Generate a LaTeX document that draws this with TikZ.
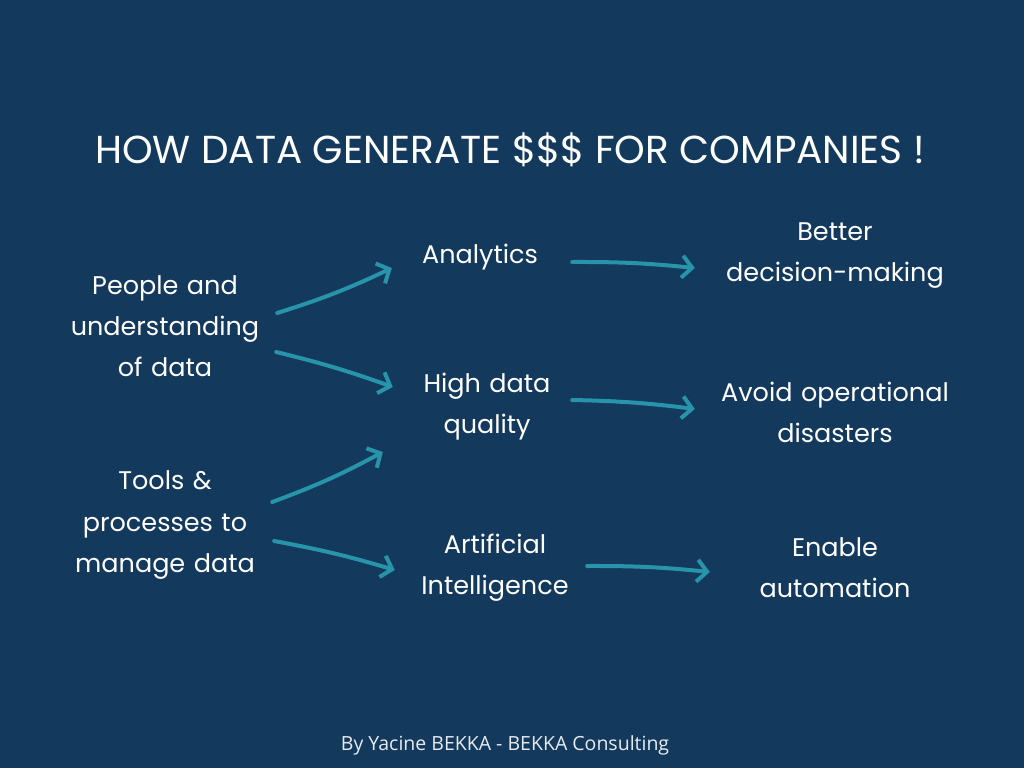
\documentclass[tikz,border=0pt]{standalone}
\usepackage{fontspec}
\setmainfont{Poppins}
\newfontfamily\footfont{Open Sans}
\usepackage{tikz}
\usetikzlibrary{arrows.meta, positioning}
\definecolor{BGNavy}{RGB}{19,57,93}
\definecolor{ArrTeal}{RGB}{40,148,170}

\begin{document}
\begin{tikzpicture}[x=1pt, y=-1pt,
            txt/.style={text=white, align=center, inner sep=0pt,
                        font=\fontsize{25.5}{41}\selectfont},
            flow/.style={-{Straight Barb[length=10pt, width=22pt, line width=4pt]},
                         ArrTeal, line width=4pt, line cap=round}
          ]
          \fill[BGNavy] (0,0) rectangle (1024,768);
          \useasboundingbox (0,0) rectangle (1024,768);

          \node[txt, font=\fontsize{39}{44}\selectfont] (title) at (510,150)
                {HOW DATA GENERATE \$\$\$ FOR COMPANIES !};

          % sources
          \node[txt, text width=210] (people) at (165,326) {People and\\understanding\\of data};
          \node[txt, text width=210] (tools)  at (165,525) {Tools \&\\processes to\\manage data};

          % means
          \node[txt, text width=170] (analytics) at (480,257) {Analytics};
          \node[txt, text width=170] (quality)   at (487,407) {High data\\quality};
          \node[txt, text width=170] (ai)        at (495,568) {Artificial\\Intelligence};

          % outcomes
          \node[txt, text width=260] (better) at (835,256) {Better\\decision-making};
          \node[txt, text width=260] (avoid)  at (835,412) {Avoid operational\\disasters};
          \node[txt, text width=260] (enable) at (835,568) {Enable\\automation};

          \node[text=white!90!BGNavy, font=\footfont\fontsize{19.5}{22}\selectfont] (by) at (505,745)
                {By Yacine BEKKA - BEKKA Consulting};

          \draw[flow] ([shift={(7,-13)}]people.east) to[bend right=4] ([shift={(-3,11)}]analytics.west);
          \draw[flow] ([shift={(6,26)}]people.east)  to[bend left=3]  ([shift={(-9,-20)}]quality.west);
          \draw[flow] ([shift={(2,-23)}]tools.east)  to[bend right=4] ([shift={(-19,45)}]quality.west);
          \draw[flow] ([shift={(4,16)}]tools.east)   to[bend left=3]  ([shift={(-15,2)}]ai.west);
          \draw[flow] ([shift={(7,5)}]analytics.east) to[bend left=3] ([shift={(-10,12)}]better.west);
          \draw[flow] ([shift={(0,-7)}]quality.east)  to[bend left=3] ([shift={(-10,-3)}]avoid.west);
          \draw[flow] ([shift={(7,-2)}]ai.east)       to[bend left=3] ([shift={(5,4)}]enable.west);
        \end{tikzpicture}
\end{document}
